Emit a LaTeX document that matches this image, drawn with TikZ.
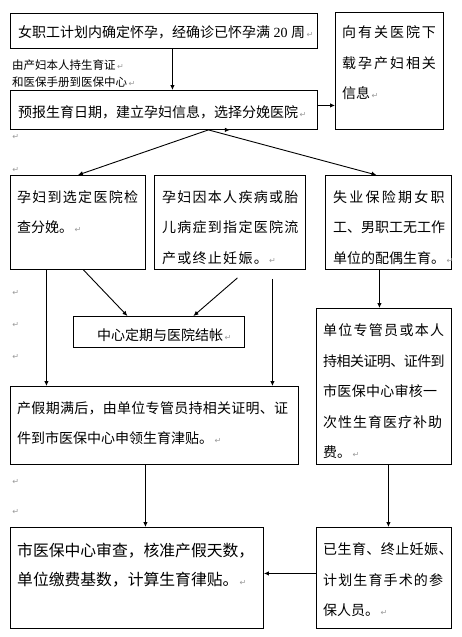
\documentclass[tikz,border=0pt]{standalone}
\usepackage{fontspec}
\newfontfamily\cjk{Noto Sans CJK SC}
\newfontfamily\latin{Liberation Serif}
\newfontfamily\symfont{DejaVu Sans}
\usetikzlibrary{arrows.meta}
\newcommand\parmark{{\symfont\fontsize{8}{8}\selectfont\color{black!40}\,↵}}
\newcommand\cjkfont[2]{\cjk\fontsize{#1}{#2}\selectfont}
\newcommand\ls[2]{{\addfontfeatures{LetterSpace=#1}#2}}
\tikzset{
  box/.style={draw, line width=0.9pt, anchor=north west, inner sep=0pt},
  txt/.style={anchor=north west, inner sep=0pt, align=left, font=\cjkfont{14}{30.5}},
  arr/.style={-{Latex[length=5pt,width=4.5pt]}, line width=0.9pt},
  pmk/.style={inner sep=0pt}
}
\begin{document}
\begin{tikzpicture}[x=1pt, y=-1pt]
	\useasboundingbox (0,0) rectangle (461,637);
	
	% Kasten (Rahmen)
	\node[box, minimum width=307, minimum height=35] (top) at (10,13) {};
	\node[box, minimum width=108, minimum height=117] (info) at (335,12) {};
	\node[box, minimum width=307, minimum height=39] (rep) at (10,90) {};
	\node[box, minimum width=135, minimum height=94] (birth) at (10,175) {};
	\node[box, minimum width=151, minimum height=94] (abort) at (154,175) {};
	\node[box, minimum width=126, minimum height=94] (spouse) at (325,175) {};
	\node[box, minimum width=171, minimum height=31] (settle) at (73,316) {};
	\node[box, minimum width=288, minimum height=78] (allow) at (10,386) {};
	\node[box, minimum width=135, minimum height=156] (subsidy) at (316,308) {};
	\node[box, minimum width=253, minimum height=101] (check) at (10,527) {};
	\node[box, minimum width=135, minimum height=101] (insured) at (316,527) {};
	
	% Texte
	\node[txt] (topt) at ([shift={(8,12)}]top.north west) {女职工计划内确定怀孕，经确诊已怀孕满{\latin\ 20\ }周\parmark};
	\node[txt] (infot) at ([shift={(7,13.5)}]info.north west) {\ls{14}{向有关医院下}\\\ls{14}{载孕产妇相关}\\信息\parmark};
	\node[anchor=north west, inner sep=0pt, align=left, font=\cjkfont{11.5}{17}] (via) at (12,60) {由产妇本人持生育证\parmark\\和医保手册到医保中心\parmark};
	\node[txt] (rept) at ([shift={(8,15.5)}]rep.north west) {预报生育日期，建立孕妇信息，选择分娩医院\parmark};
	\node[txt] (birtht) at ([shift={(7,15)}]birth.north west) {\ls{9}{孕妇到选定医院检}\\查分娩。\parmark};
	\node[txt] (abortt) at ([shift={(8,15)}]abort.north west) {\ls{9}{孕妇因本人疾病或胎}\\\ls{9}{儿病症到指定医院流}\\\ls{9}{产或终止妊娠。}\parmark};
	\node[txt] (spouset) at ([shift={(8,15)}]spouse.north west) {\ls{16}{失业保险期女职}\\工、男职工无工作\\单位的配偶生育。\parmark};
	\node[txt] (settlet) at ([shift={(24,12.5)}]settle.north west) {中心定期与医院结帐\parmark};
	\node[txt] (allowt) at ([shift={(7,15)}]allow.north west) {\ls{2}{产假期满后，由单位专管员持相关证明、证}\\件到市医保中心申领生育津贴。\parmark};
	\node[txt] (subsidyt) at ([shift={(7,15.5)}]subsidy.north west) {\ls{9}{单位专管员或本人}\\\ls{-4}{持相关证明、证件到}\\\ls{2}{市医保中心审核一}\\\ls{7}{次性生育医疗补助}\\费。\parmark};
	\node[txt, font=\cjkfont{15.8}{29}] (checkt) at ([shift={(7,15.5)}]check.north west) {市医保中心审查，核准产假天数，\\单位缴费基数，计算生育律贴。\parmark};
	\node[txt] (insuredt) at ([shift={(7,15.5)}]insured.north west) {\ls{3}{已生育、终止妊娠、}\\\ls{8}{计划生育手术的参}\\保人员。\parmark};
	
	% Absatzmarken am Rand
	\foreach \y [count=\i] in {137,170,293,325,357,482,512}
		\node[pmk] (mk\i) at (15,\y) {\parmark};
	
	% Pfeile
	\draw[arr] ([xshift=8.5pt]top.south) -- ([xshift=8.5pt]rep.north);
	\draw[arr] ([yshift=4.5pt]rep.east) -- ([yshift=4.5pt]rep.east -| info.west);
	\coordinate (fork) at ([xshift=44.5pt]rep.south);
	\draw[arr] (fork) -- (birth.north);
	\draw[arr] (fork) -- (fork -| abort.north);
	\draw[arr] (fork) -- ([xshift=-12pt]spouse.north);
	\draw[arr] ([xshift=-31.5pt]birth.south) -- ([xshift=-31.5pt]birth.south |- allow.north);
	\draw[arr] ([xshift=5.5pt]birth.south) -- ([xshift=-31.5pt]settle.north);
	\draw[arr] ([xshift=7.5pt,yshift=-8pt]abort.south) -- ([xshift=34.5pt]settle.north);
	\draw[arr] ([xshift=42.5pt,yshift=-9pt]abort.south) -- ([xshift=42.5pt]abort.south |- allow.north);
	\draw[arr] ([xshift=-9pt]spouse.south) -- ([xshift=-9pt]spouse.south |- subsidy.north);
	\draw[arr] ([xshift=-9pt]allow.south) -- ([xshift=-9pt]allow.south |- check.north);
	\draw[arr] ([xshift=4.5pt]subsidy.south) -- ([xshift=4.5pt]subsidy.south |- insured.north);
	\draw[arr] ([yshift=4.5pt]insured.west) -- ([yshift=4.5pt]insured.west -| check.east);
	
\end{tikzpicture}
\end{document}
